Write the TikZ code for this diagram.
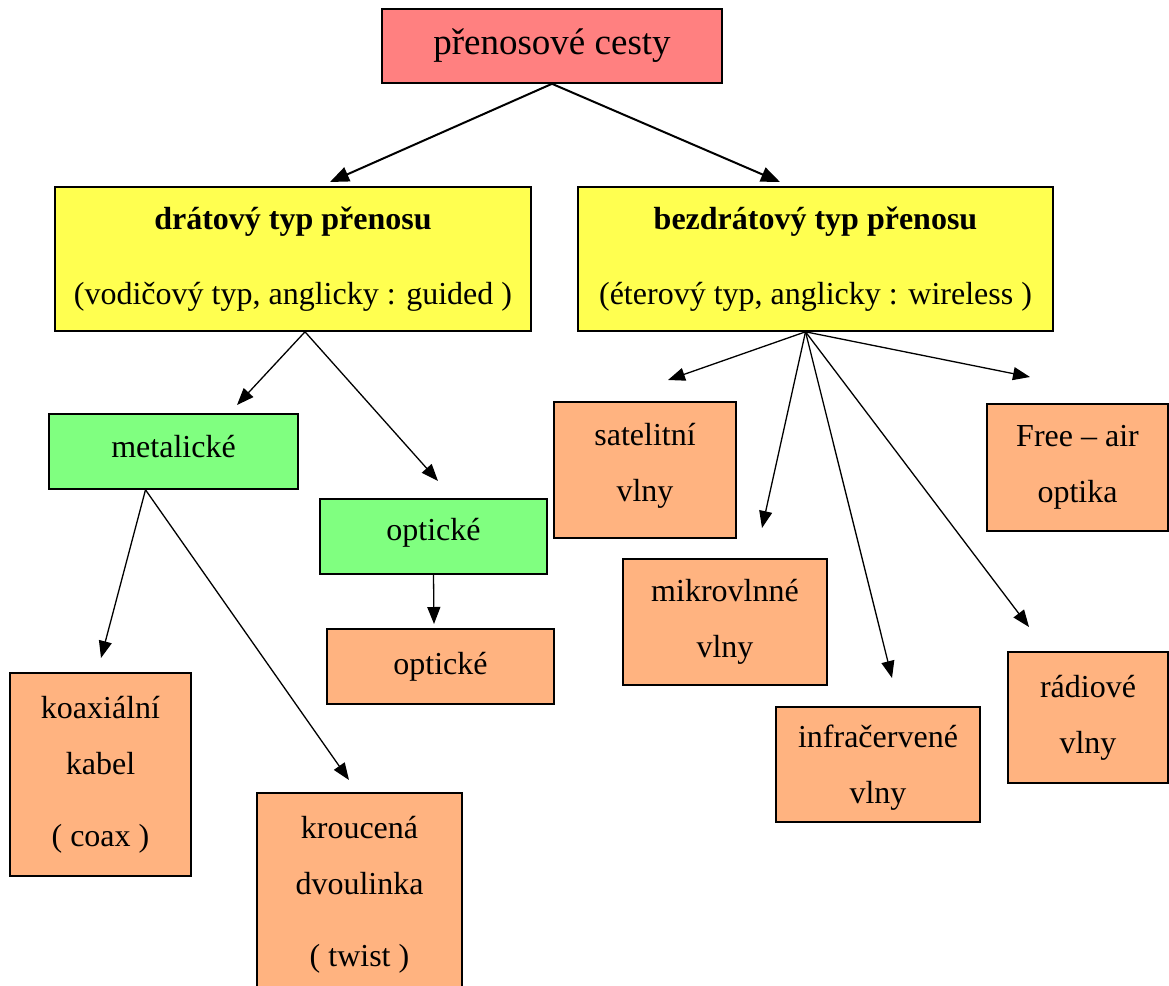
\documentclass[tikz,border=0pt]{standalone}
\usepackage{fontspec}
\setmainfont{Liberation Serif}
\usetikzlibrary{arrows.meta}
\definecolor{titlered}{RGB}{255,128,128}
\definecolor{wireyellow}{RGB}{255,255,80}
\definecolor{kindgreen}{RGB}{128,255,128}
\definecolor{leaforange}{RGB}{255,179,128}
\tikzset{
  box/.style={draw, line width=1.6pt, inner sep=0pt, align=center,
    font=\fontsize{32}{56}\selectfont},
  leaf/.style={box, fill=leaforange},
  arr/.style={-{Triangle[length=17pt,width=13pt]}, line width=1.3pt},
  toparr/.style={-{Triangle[length=19pt,width=15pt]}, line width=2pt}
}
\begin{document}
\begin{tikzpicture}[x=1pt,y=-1pt]
    \clip (0,0) rectangle (1169,985);

    % Koren
    \node[box, fill=titlered, minimum width=340pt, minimum height=74pt,
      font=\fontsize{37}{44}\selectfont] (cesty) at (552,46) {přenosové cesty};

    % Dva typy prenosu
    \node[box, fill=wireyellow, minimum width=476pt, minimum height=144pt] (drat) at (293,259)
      {\textbf{drátový typ přenosu}\\[19pt](vodičový typ, anglicky : guided )};
    \node[box, fill=wireyellow, minimum width=475pt, minimum height=144pt] (bezdrat) at (815.5,259)
      {\textbf{bezdrátový typ přenosu}\\[19pt](éterový typ, anglicky : wireless )};

    % Dratove
    \node[box, fill=kindgreen, minimum width=249pt, minimum height=75pt, text depth=11pt] (metal) at (173.5,451.5) {metalické};
    \node[box, fill=kindgreen, minimum width=227pt, minimum height=75pt, text depth=14pt] (optg) at (433.5,536.5) {optické};
    \node[leaf, minimum width=227pt, minimum height=75pt] (opto) at (440.5,666.5) {optické};
    \node[leaf, minimum width=181pt, minimum height=203pt] (koax) at (100.5,774.5)
      {koaxiální\\kabel\\[16pt]( coax )};
    \node[leaf, minimum width=205pt, minimum height=203pt] (twist) at (359.5,894.5)
      {kroucená\\dvoulinka\\[16pt]( twist )};

    % Bezdratove
    \node[leaf, minimum width=182pt, minimum height=136pt, text depth=15pt] (satel) at (645,470) {satelitní\\vlny};
    \node[leaf, minimum width=204pt, minimum height=126pt] (mikro) at (725,622) {mikrovlnné\\vlny};
    \node[leaf, minimum width=204pt, minimum height=115pt, text depth=-7pt] (infra) at (878,764.5) {infračervené\\vlny};
    \node[leaf, minimum width=160pt, minimum height=131pt] (radio) at (1088,717.5) {rádiové\\vlny};
    \node[leaf, minimum width=181pt, minimum height=127pt] (free) at (1077.5,467.5) {Free – air\\optika};

    % Konce sipek
    \coordinate (kdrat) at (330,182);
    \coordinate (kbez) at (780,182);
    \coordinate (kmetal) at (237,405);
    \coordinate (koptg) at (438,481);
    \coordinate (kopto) at (434,624);
    \coordinate (kkoax) at (101,658);
    \coordinate (ktwist) at (349,780);
    \coordinate (ksatel) at (668,380);
    \coordinate (kmikro) at (762,528);
    \coordinate (kinfra) at (892,678);
    \coordinate (kradio) at (1029,627);
    \coordinate (kfree) at (1030,377);

    % Sipky
    \draw[toparr] (cesty.south) -- (kdrat);
    \draw[toparr] (cesty.south) -- (kbez);
    \draw[arr] ([xshift=12pt]drat.south) -- (kmetal);
    \draw[arr] ([xshift=12pt]drat.south) -- (koptg);
    \draw[arr] (optg.south) -- (kopto);
    \draw[arr] ([xshift=-28pt]metal.south) -- (kkoax);
    \draw[arr] ([xshift=-28pt]metal.south) -- (ktwist);
    \foreach \k in {ksatel,kmikro,kinfra,kradio,kfree}
      \draw[arr] ([xshift=-10pt]bezdrat.south) -- (\k);
\end{tikzpicture}
\end{document}
